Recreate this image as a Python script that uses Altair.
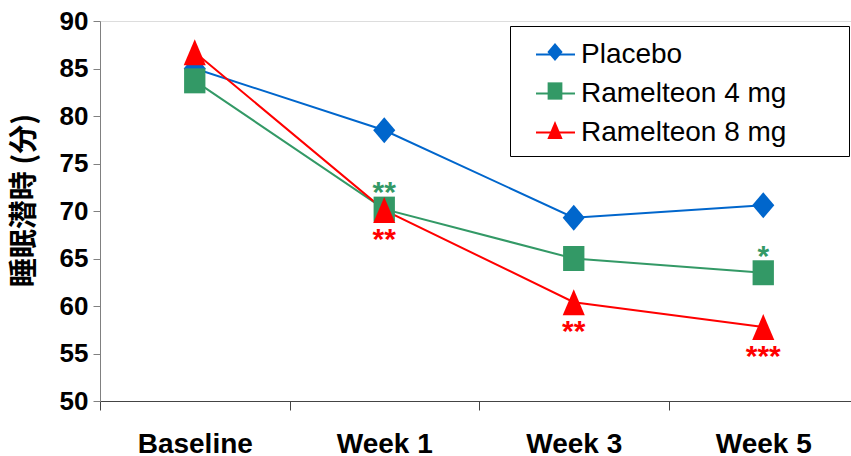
import altair as alt
import pandas as pd

# Mean sleep latency by visit and treatment arm
weeks = ["Baseline", "Week 1", "Week 3", "Week 5"]
series_names = ["Placebo", "Ramelteon 4 mg", "Ramelteon 8 mg"]
placebo = [85.0, 78.5, 69.3, 70.6]
ramelteon_4mg = [83.7, 70.2, 65.0, 63.5]
ramelteon_8mg = [86.7, 70.1, 60.4, 57.8]

# Significance markers versus placebo
sig_week = ["Week 1", "Week 1", "Week 3", "Week 5", "Week 5"]
sig_series = ["Ramelteon 4 mg", "Ramelteon 8 mg", "Ramelteon 8 mg", "Ramelteon 4 mg", "Ramelteon 8 mg"]
sig_marks = ["**", "**", "**", "*", "***"]
sig_side = ["above", "below", "below", "above", "below"]

y_ticks = [50, 55, 60, 65, 70, 75, 80, 85, 90]

colors = ["#0066CC", "#339966", "#FF0000"]
# marker outlines: diamond, square, triangle (slightly taller than wide)
marker_paths = [
    "M-0.85,0L0,-1L0.85,0L0,1Z",
    "M-0.82,-0.96H0.82V0.96H-0.82Z",
    "M0,-1L0.85,1L-0.85,1Z",
]

rows = []
for name, vals in zip(series_names, [placebo, ramelteon_4mg, ramelteon_8mg]):
    for w, v in zip(weeks, vals):
        rows.append({"week": w, "series": name, "marker": name, "minutes": v})
df = pd.DataFrame(rows)

value_of = {(r["series"], r["week"]): r["minutes"] for r in rows}
sig = pd.DataFrame({
    "week": sig_week,
    "series": sig_series,
    "label": sig_marks,
    "side": sig_side,
    "minutes": [value_of[(s, w)] for s, w in zip(sig_series, sig_week)],
})

FONT = "Liberation Sans"

x_enc = alt.X(
    "week:N",
    sort=weeks,
    scale=alt.Scale(domain=weeks, range=[0, 758], paddingInner=0, paddingOuter=0),
    axis=alt.Axis(
        title=None, labelAngle=0, tickBand="extent", tickSize=9,
        labelFont=FONT, labelFontSize=28, labelFontWeight="bold", labelColor="black",
        labelPadding=20, domainColor="#444444", tickColor="#444444",
        domainWidth=1, tickWidth=1, grid=False,
    ),
)
y_enc = alt.Y(
    "minutes:Q",
    scale=alt.Scale(domain=[50, 90], nice=False, zero=False),
    axis=alt.Axis(
        title="睡眠潜時 (分)", values=y_ticks, tickSize=7, labelPadding=5,
        labelFont=FONT, labelFontSize=26, labelFontWeight="bold", labelColor="black",
        domainColor="#808080", tickColor="#808080", grid=False,
        titleFont="Noto Sans CJK JP", titleFontSize=29, titleFontWeight="bold",
        titleColor="black", titleAngle=270, titleX=-76, titleY=179,
        titleAlign="center", titleBaseline="middle",
    ),
)

color_scale = alt.Scale(domain=series_names, range=colors)

# Legend: one legend draws the line samples and the visible labels,
# a second one at the same place draws the filled markers and the frame.
line_legend = alt.Legend(
    title=None, orient="none", legendX=410, legendY=4,
    symbolType="stroke", symbolSize=1521, symbolStrokeWidth=2, symbolOffset=16,
    labelFont=FONT, labelFontSize=28, labelColor="black", labelOffset=5,
    labelLimit=400, rowPadding=4, padding=9, fillColor="white",
)
marker_legend = alt.Legend(
    title=None, orient="none", legendX=410, legendY=5,
    symbolSize=324, symbolStrokeWidth=0, symbolOpacity=1, symbolOffset=19,
    labelFont=FONT, labelFontSize=16, labelOpacity=0, labelOffset=150, labelLimit=400,
    rowPadding=21, padding=17, strokeColor="black",
)

lines = alt.Chart(df).mark_line(strokeWidth=2).encode(
    x=x_enc, y=y_enc,
    color=alt.Color("series:N", scale=color_scale, legend=line_legend),
    detail="series:N",
)

points = alt.Chart(df).mark_point(filled=True, opacity=1, size=676, strokeWidth=0).encode(
    x=x_enc, y=y_enc,
    fill=alt.Fill("marker:N", scale=alt.Scale(range=colors), legend=marker_legend),
    shape=alt.Shape("marker:N", scale=alt.Scale(range=marker_paths), legend=marker_legend),
)

stars_base = alt.Chart(sig).encode(
    x=x_enc, y=y_enc, text="label:N",
    color=alt.Color("series:N", scale=color_scale, legend=None),
)
stars_above = stars_base.transform_filter(alt.datum.side == "above").mark_text(
    font=FONT, fontSize=30, fontWeight="bold", baseline="middle", dy=-16
)
stars_below = stars_base.transform_filter(alt.datum.side == "below").mark_text(
    font=FONT, fontSize=30, fontWeight="bold", baseline="middle", dy=30
)

chart = alt.layer(lines, points, stars_above, stars_below).properties(
    width=751, height=380,
    autosize=alt.AutoSizeParams(type="none"),
    padding={"left": 100, "top": 21, "right": 0, "bottom": 55},
).configure_view(stroke=None).configure(background="white")

chart.save("out.html", embed_options={"renderer": "svg", "actions": False})
